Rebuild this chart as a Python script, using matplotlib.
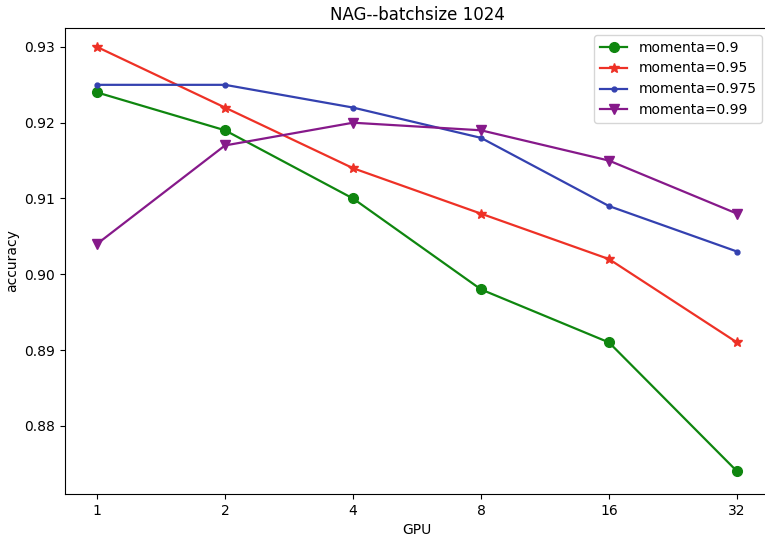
import matplotlib
matplotlib.use("Agg")
import matplotlib.pyplot as plt

gpus = ['1', '2', '4', '8', '16', '32']
acc_090 = [0.924, 0.919, 0.910, 0.898, 0.891, 0.874]
acc_095 = [0.930, 0.922, 0.914, 0.908, 0.902, 0.891]
acc_0975 = [0.925, 0.925, 0.922, 0.918, 0.909, 0.903]
acc_099 = [0.904, 0.917, 0.920, 0.919, 0.915, 0.908]

fig = plt.figure(figsize=(7.65, 5.39), dpi=100)
# right edge of the axes is cut off in the reference
ax = fig.add_axes([65 / 765, 45 / 539, 704 / 765, 466 / 539])

x = range(len(gpus))
ax.plot(x, acc_090, color='#0f860f', marker='o', markersize=7, linewidth=1.6, label='momenta=0.9')
ax.plot(x, acc_095, color='#ee3126', marker='*', markersize=7, linewidth=1.6, label='momenta=0.95')
ax.plot(x, acc_0975, color='#3441b0', marker='.', markersize=7, linewidth=1.6, label='momenta=0.975')
ax.plot(x, acc_099, color='#86198a', marker='v', markersize=7, linewidth=1.6, label='momenta=0.99')

ax.set_xticks(list(x))
ax.set_xticklabels(gpus)
ax.set_xlim(-0.25, 5.25)
ax.set_ylim(0.871, 0.9325)
ax.set_yticks([0.88, 0.89, 0.90, 0.91, 0.92, 0.93])
ax.set_yticklabels(['0.88', '0.89', '0.90', '0.91', '0.92', '0.93'])

ax.set_xlabel('GPU')
ax.set_ylabel('accuracy')
ax.set_title('NAG--batchsize 1024', fontsize=12)
ax.legend(loc='upper right', fontsize=10)

fig.savefig('out.png', dpi=100)
